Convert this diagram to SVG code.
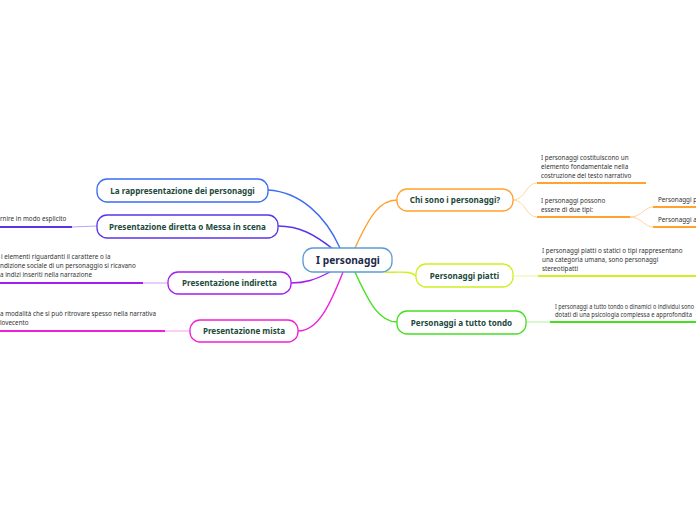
<svg xmlns="http://www.w3.org/2000/svg" width="696" height="520" viewBox="0 0 696 520">
<style>
.bg{fill:#ffffff}
.node rect{fill:#ffffff;stroke-width:1.3}
.nt{font-family:"Noto Sans","Open Sans",sans-serif;font-weight:bold;font-size:8.1px;fill:#1d4a3c;text-anchor:middle}
.ct{font-family:"Noto Sans","Open Sans",sans-serif;font-weight:bold;font-size:10.2px;fill:#1c2a4a;text-anchor:middle}
.lt{font-family:"Noto Sans","Open Sans",sans-serif;font-size:6.3px;fill:#333333}
.c{fill:none;stroke-width:1.4;stroke-linecap:round}
.u{fill:none;stroke-width:2}
.l{fill:none;stroke-width:1;opacity:0.45}
</style>
<rect class="bg" width="696" height="520"/>
<g id="connectors">
  <path class="c" stroke="#3b6cf2" d="M340,248 C325,215 300,192 268,190"/>
  <path class="c" stroke="#5a35e8" d="M333,249 C315,235 300,226 278,226"/>
  <path class="c" stroke="#a21ef0" d="M330,272 C315,280 305,283 291,283"/>
  <path class="c" stroke="#f020d8" d="M343,272 C330,305 318,331 298,331"/>
  <path class="c" stroke="#ffa22e" d="M355,248 C370,215 380,200 397,200"/>
  <path class="c" stroke="#cdf020" d="M385,272 C400,273 410,270 416,276"/>
  <path class="c" stroke="#44e020" d="M355,272 C370,305 380,322 397,322"/>
  <path class="l" stroke="#5a35e8" d="M97,226 L72,227"/>
  <path class="u" stroke="#5a35e8" d="M72,227 L0,227"/>
  <path class="l" stroke="#a21ef0" d="M168,283 L143,283"/>
  <path class="u" stroke="#a21ef0" d="M143,283 L0,283"/>
  <path class="l" stroke="#f020d8" d="M190,331 L165,331"/>
  <path class="u" stroke="#f020d8" d="M165,331 L0,331"/>
  <path class="l" stroke="#ffa22e" d="M513,200 C525,200 526,183 537,183"/>
  <path class="l" stroke="#ffa22e" d="M513,200 C525,200 526,217 537,217"/>
  <path class="u" stroke="#ffa22e" d="M537,183 L646,183"/>
  <path class="u" stroke="#ffa22e" d="M537,217 L630,217"/>
  <path class="l" stroke="#ffa22e" d="M630,217 C642,217 644,207 653,207"/>
  <path class="l" stroke="#ffa22e" d="M630,217 C642,217 644,227 653,227"/>
  <path class="u" stroke="#ffa22e" d="M653,207 L696,207"/>
  <path class="u" stroke="#ffa22e" d="M653,227 L696,227"/>
  <path class="l" stroke="#cdf020" d="M513,276 L538,276"/>
  <path class="u" stroke="#cdf020" d="M538,276 L696,276"/>
  <path class="l" stroke="#44e020" d="M526,322 L550,322"/>
  <path class="u" stroke="#44e020" d="M550,322 L696,322"/>
</g>
<g id="center" class="node">
  <rect x="303" y="248" width="89" height="24" rx="10" stroke="#5b9bd5"/>
  <text class="ct" x="348" y="263.5">I personaggi</text>
</g>
<g id="n-rappresentazione" class="node">
  <rect x="97" y="179" width="171" height="23" rx="10" stroke="#3b6cf2"/>
  <text class="nt" x="182.5" y="193.5">La rappresentazione dei personaggi</text>
</g>
<g id="n-diretta" class="node">
  <rect x="97" y="215" width="181" height="23" rx="10" stroke="#5a35e8"/>
  <text class="nt" x="187.5" y="229.5">Presentazione diretta o Messa in scena</text>
</g>
<g id="n-indiretta" class="node">
  <rect x="168" y="272" width="123" height="22" rx="10" stroke="#a21ef0"/>
  <text class="nt" x="229.5" y="286">Presentazione indiretta</text>
</g>
<g id="n-mista" class="node">
  <rect x="190" y="320" width="108" height="22" rx="10" stroke="#f020d8"/>
  <text class="nt" x="244" y="334">Presentazione mista</text>
</g>
<g id="n-chisono" class="node">
  <rect x="397" y="189" width="116" height="22" rx="10" stroke="#ffa22e"/>
  <text class="nt" x="455" y="203">Chi sono i personaggi?</text>
</g>
<g id="n-piatti" class="node">
  <rect x="416" y="264" width="97" height="23" rx="10" stroke="#cdf020"/>
  <text class="nt" x="464.5" y="278.5">Personaggi piatti</text>
</g>
<g id="n-tondo" class="node">
  <rect x="397" y="311" width="129" height="23" rx="10" stroke="#44e020"/>
  <text class="nt" x="461.5" y="325.5">Personaggi a tutto tondo</text>
</g>
<g id="leaf-diretta">
  <text class="lt" x="0" y="221">rnire in modo esplicito</text>
</g>
<g id="leaf-indiretta">
  <text class="lt" x="1" y="259">i elementi riguardanti il carattere o la</text>
  <text class="lt" x="0" y="268">ndizione sociale di un personaggio si ricavano</text>
  <text class="lt" x="0" y="277">a indizi inseriti nella narrazione</text>
</g>
<g id="leaf-mista">
  <text class="lt" x="0" y="316">a modalità che si può ritrovare spesso nella narrativa</text>
  <text class="lt" x="0" y="325">lovecento</text>
</g>
<g id="leaf-costituiscono">
  <text class="lt" x="541" y="160">I personaggi costituiscono un</text>
  <text class="lt" x="541" y="169">elemento fondamentale nella</text>
  <text class="lt" x="541" y="178">costruzione del testo narrativo</text>
</g>
<g id="leaf-duetipi">
  <text class="lt" x="541" y="203">I personaggi possono</text>
  <text class="lt" x="541" y="212">essere di due tipi:</text>
</g>
<g id="leaf-p1">
  <text class="lt" x="658" y="202">Personaggi p</text>
</g>
<g id="leaf-p2">
  <text class="lt" x="658" y="222">Personaggi a</text>
</g>
<g id="leaf-piatti">
  <text class="lt" x="542" y="253">I personaggi piatti o statici o tipi rappresentano</text>
  <text class="lt" x="542" y="262">una categoria umana, sono personaggi</text>
  <text class="lt" x="542" y="271">stereotipatti</text>
</g>
<g id="leaf-tondo">
  <text class="lt" x="555" y="309" textLength="139" lengthAdjust="spacingAndGlyphs">I personaggi a tutto tondo o dinamici o individui sono</text>
  <text class="lt" x="555" y="317" textLength="137" lengthAdjust="spacingAndGlyphs">dotati di una psicologia complessa e approfondita</text>
</g>
</svg>
